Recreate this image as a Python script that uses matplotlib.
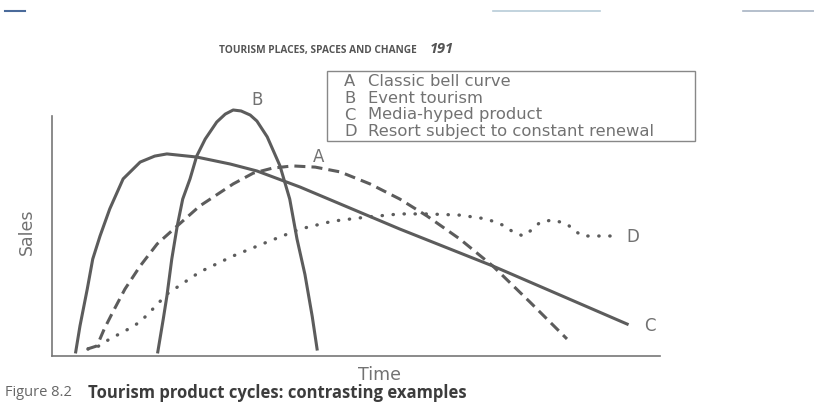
# -*- coding: utf-8 -*-
import numpy as np
import matplotlib.pyplot as plt
from matplotlib.patches import Rectangle
from matplotlib.lines import Line2D

#---------------------------------------------------------------------
# データ (Time: 0-100, Sales: 0-100 = 縦軸の長さ)
#---------------------------------------------------------------------
# A 古典的ベルカーブ (破線)
a_time = [5.8, 7.4, 8.6, 10.0, 12.0, 14.5, 17.3, 20.6, 24.3, 29.8, 33.1, 36.3,
          39.6, 43.3, 47.4, 52.3, 57.2, 61.7, 67.1, 72.5, 78.6, 84.7]
a_sales = [2.9, 4.2, 11.3, 18.3, 27.9, 37.5, 46.7, 54.2, 62.5, 71.7, 76.2, 78.3,
           79.2, 78.7, 76.7, 71.7, 65.4, 58.3, 48.7, 37.5, 22.5, 7.1]

# B イベント観光 (実線)
b_time = [17.4, 18.3, 18.9, 19.7, 20.6, 21.5, 22.7, 23.8, 25.2, 27.1, 28.5, 29.8,
          31.1, 32.6, 33.7, 35.4, 37.5, 39.1, 40.3, 41.6, 42.8, 43.6]
b_sales = [1.7, 15.4, 25.0, 40.4, 54.2, 65.4, 73.8, 83.3, 90.4, 97.5, 100.8, 102.5,
           102.1, 100.4, 97.9, 91.3, 79.2, 65.4, 48.7, 34.0, 16.5, 2.9]

# C メディア主導の商品 (実線)
c_time = [3.9, 4.6, 5.8, 6.7, 7.9, 9.5, 11.7, 14.5, 16.9, 18.9, 23.8, 29.3,
          33.7, 40.8, 57.2, 72.5, 94.6]
c_sales = [1.7, 12.5, 27.9, 40.4, 50.0, 61.3, 73.8, 80.8, 83.3, 84.2, 82.9, 80.0,
           77.1, 70.4, 52.9, 37.5, 13.3]

# D 継続的に刷新されるリゾート (点線)
d_time = [5.9, 7.4, 9.5, 12.0, 14.5, 16.9, 18.9, 24.3, 29.8, 35.4, 40.8, 46.2,
          51.8, 57.2, 61.7, 67.1, 71.5, 74.5, 75.8, 77.5, 79.1, 80.3, 82.4, 84.7,
          86.0, 87.3, 91.8]
d_sales = [2.9, 3.7, 7.1, 10.4, 14.2, 20.4, 25.8, 35.0, 41.7, 47.5, 52.9, 56.2,
           57.9, 59.2, 59.2, 58.7, 57.1, 54.2, 51.7, 50.0, 52.9, 55.8, 56.7, 55.0,
           52.1, 50.0, 50.0]

legend_keys = ['A', 'B', 'C', 'D']
legend_names = ['Classic bell curve', 'Event tourism', 'Media-hyped product',
                'Resort subject to constant renewal']

#---------------------------------------------------------------------
# 図の作成
#---------------------------------------------------------------------
W, H = 814, 410
fig = plt.figure(figsize=(W / 100, H / 100), dpi=100)
plt.rcParams['font.family'] = ['DejaVu Sans']


def px(x, y):
    # ピクセル座標 -> 図の座標
    return x / W, 1 - y / H


ax = fig.add_axes([52 / W, (H - 357) / H, 608 / W, 300 / H])
ax.set_xlim(0, 100)
ax.set_ylim(0, 125)
ax.patch.set_alpha(0)

line_col = '#5c5c5c'
text_col = '#727272'

ax.plot(a_time, a_sales, color=line_col, lw=2.2, dashes=(3.6, 2.0),
        solid_capstyle='butt', clip_on=False)
ax.plot(b_time, b_sales, color=line_col, lw=2.2, clip_on=False,
        solid_joinstyle='round')
ax.plot(c_time, c_sales, color=line_col, lw=2.2, clip_on=False,
        solid_joinstyle='round')
ax.plot(d_time, d_sales, color=line_col, lw=2.4, linestyle=(0, (0.1, 3.2)),
        dash_capstyle='round', clip_on=False)

# 曲線ラベル
ax.text(43.8, 83.5, 'A', fontsize=12, color=text_col, ha='center', va='center')
ax.text(33.7, 107, 'B', fontsize=12, color=text_col, ha='center', va='center')
ax.text(98.4, 12.9, 'C', fontsize=12, color=text_col, ha='center', va='center')
ax.text(95.6, 50, 'D', fontsize=12, color=text_col, ha='center', va='center')

# 軸
for s in ['top', 'right']:
    ax.spines[s].set_visible(False)
ax.spines['left'].set_bounds(0, 100)
ax.spines['left'].set_color('#777777')
ax.spines['bottom'].set_color('#777777')
ax.spines['left'].set_linewidth(1.2)
ax.spines['bottom'].set_linewidth(1.2)
ax.set_xticks([])
ax.set_yticks([])

fig.text(*px(380, 375), 'Time', fontsize=12.5, color=text_col,
         ha='center', va='center')
fig.text(*px(27, 232), 'Sales', fontsize=12.5, color=text_col,
         ha='center', va='center', rotation=90)

# 凡例ボックス
x0, y0 = px(327, 72)
x1, y1 = px(695, 142)
fig.patches.append(Rectangle((x0, y1), x1 - x0, y0 - y1, transform=fig.transFigure,
                             fill=False, edgecolor='#888888', lw=1.0))
for i, (k, name) in enumerate(zip(legend_keys, legend_names)):
    y = 82 + i * 16.5
    fig.text(*px(344, y), k, fontsize=11.8, color=text_col, va='center')
    fig.text(*px(368, y), name, fontsize=11.8, color=text_col, va='center')

# ヘッダー / キャプション
fig.text(*px(417, 50), 'TOURISM PLACES, SPACES AND CHANGE', fontsize=7.3,
         fontweight='bold', color='#555555', ha='right', va='center',
         family=['Open Sans', 'DejaVu Sans'])
fig.text(*px(430, 49), '191', fontsize=10.5, fontweight='bold', style='italic',
         color='#555555', ha='left', va='center',
         family=['Open Sans', 'DejaVu Sans'])
fig.text(*px(5, 393), 'Figure 8.2', fontsize=10.5, color='#666666', va='center',
         family=['Open Sans', 'DejaVu Sans'])
fig.text(*px(88, 393), 'Tourism product cycles: contrasting examples', fontsize=12,
         fontweight='bold', color='#3c3c3c', va='center',
         family=['Open Sans', 'DejaVu Sans'])

# 上端の飾り線
fig.lines.append(Line2D([5 / W, 25 / W], [1 - 12 / H] * 2, transform=fig.transFigure,
                        color='#4a6a9a', lw=1.5))
fig.lines.append(Line2D([493 / W, 600 / W], [1 - 12 / H] * 2, transform=fig.transFigure,
                        color='#b8ccd8', lw=1.2))
fig.lines.append(Line2D([743 / W, 814 / W], [1 - 12 / H] * 2, transform=fig.transFigure,
                        color='#a8b4c4', lw=1.2))

plt.savefig('out.png', dpi=100)
